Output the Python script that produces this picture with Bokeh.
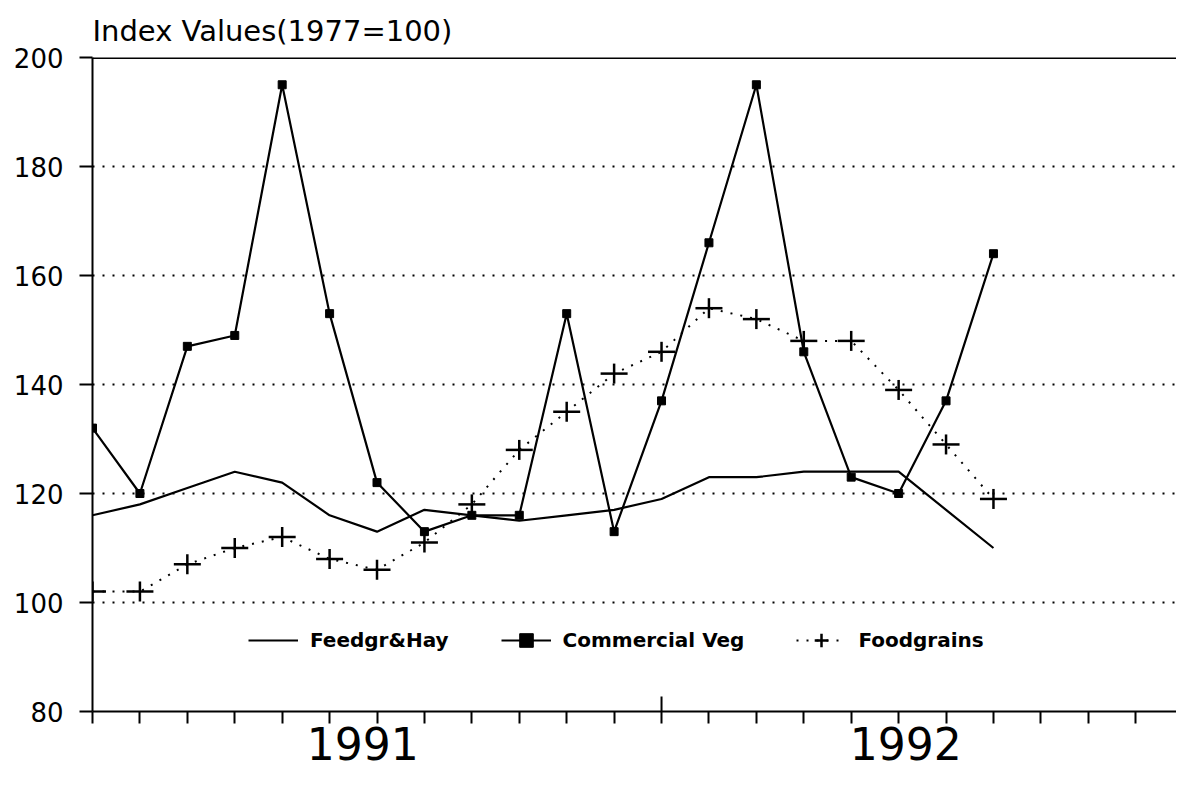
import math
from bokeh.plotting import figure
from bokeh.models import Range1d, FixedTicker, Span, Legend, LegendItem, ColumnDataSource
from bokeh.embed import file_html
from bokeh.resources import INLINE

# ---- data ----
months = list(range(20))
feedgr_hay = [116, 118, 121, 124, 122, 116, 113, 117, 116, 115, 116, 117, 119, 123, 123, 124, 124, 124, 117, 110]
commercial_veg = [132, 120, 147, 149, 195, 153, 122, 113, 116, 116, 153, 113, 137, 166, 195, 146, 123, 120, 137, 164]
foodgrains = [102, 102, 107, 110, 112, 108, 106, 111, 118, 128, 135, 142, 146, 154, 152, 148, 148, 139, 129, 119]
year_labels = ["1991", "1992"]
year_label_pos = [5.7, 17.15]
year_boundary = 12
month_ticks = list(range(0, 23))
y_ticks = [80, 100, 120, 140, 160, 180, 200]
grid_ticks = [100, 120, 140, 160, 180]

src = ColumnDataSource(dict(m=months, feed=feedgr_hay, veg=commercial_veg, food=foodgrains))

p = figure(width=1176, height=782, output_backend="svg", toolbar_location=None,
           x_range=Range1d(0, 22.86), y_range=Range1d(80, 200),
           min_border_left=92, min_border_top=57, min_border_bottom=71, min_border_right=0)

p.outline_line_color = None
p.background_fill_color = "white"
p.border_fill_color = "white"

# title
p.title.text = "Index Values(1977=100)"
p.title.text_font = "DejaVu Sans"
p.title.text_font_size = "29px"
p.title.text_font_style = "normal"
p.title.text_color = "black"
p.title.align = "left"
p.title.standoff = 19

# y axis
p.yaxis.ticker = FixedTicker(ticks=y_ticks)
p.yaxis.major_tick_out = 13
p.yaxis.major_tick_in = 0
p.yaxis.minor_tick_line_color = None
p.yaxis.major_tick_line_width = 2
p.yaxis.axis_line_width = 2
p.yaxis.major_label_text_font = "DejaVu Sans"
p.yaxis.major_label_text_font_size = "26px"
p.yaxis.major_label_text_color = "black"
p.yaxis.major_label_standoff = 16

# x axis
p.xaxis.ticker = FixedTicker(ticks=year_label_pos, minor_ticks=month_ticks)
p.xaxis.major_label_overrides = {year_label_pos[0]: year_labels[0], year_label_pos[1]: year_labels[1]}
p.xaxis.major_tick_line_color = None
p.xaxis.major_tick_out = 0
p.xaxis.major_tick_in = 0
p.xaxis.minor_tick_out = 12
p.xaxis.minor_tick_in = 0
p.xaxis.minor_tick_line_width = 2
p.xaxis.minor_tick_line_color = "black"
p.xaxis.axis_line_width = 2
p.xaxis.major_label_text_font = "DejaVu Sans"
p.xaxis.major_label_text_font_size = "44px"
p.xaxis.major_label_text_color = "black"
p.xaxis.major_label_standoff = 3

# grid
p.xgrid.grid_line_color = None
p.ygrid.ticker = FixedTicker(ticks=grid_ticks)
p.ygrid.grid_line_color = "black"
p.ygrid.grid_line_dash = "2 8"
p.ygrid.grid_line_width = 2

# top border
p.add_layout(Span(location=200, dimension="width", line_color="black", line_width=3))

# tall tick at year boundary
p.scatter(x=[year_boundary], y=[80], marker="dash", angle=math.pi / 2, size=30,
          line_color="black", line_width=2)

# series
r_feed = p.line("m", "feed", source=src, line_color="black", line_width=2.2)
r_veg_l = p.line("m", "veg", source=src, line_color="black", line_width=2.2)
r_veg_m = p.scatter("m", "veg", source=src, marker="square", size=8, fill_color="black", line_color="black")
r_food_l = p.line("m", "food", source=src, line_color="black", line_width=2, line_dash="2 8")
r_food_h = p.scatter("m", "food", source=src, marker="dash", size=27, line_color="black", line_width=2.5)
r_food_v = p.scatter("m", "food", source=src, marker="dash", angle=math.pi / 2, size=20,
                     line_color="black", line_width=2.5)
# cross used only for the legend swatch (zero size on the plot itself)
r_food_c = p.scatter("m", "food", source=src, marker="cross", size=0, line_color="black", line_width=2.5)

legend = Legend(items=[
    LegendItem(label="Feedgr&Hay", renderers=[r_feed]),
    LegendItem(label="Commercial Veg", renderers=[r_veg_l, r_veg_m]),
    LegendItem(label="Foodgrains", renderers=[r_food_l, r_food_c]),
], orientation="horizontal", location=(156, 54))
legend.border_line_color = None
legend.background_fill_alpha = 0
legend.padding = 0
legend.margin = 0
legend.glyph_width = 50
legend.glyph_height = 34
legend.label_standoff = 12
legend.spacing = 52
legend.label_text_font = "DejaVu Sans"
legend.label_text_font_style = "bold"
legend.label_text_font_size = "20px"
legend.label_text_color = "black"
p.add_layout(legend, "center")

open("out.html", "w").write(file_html(p, INLINE))
